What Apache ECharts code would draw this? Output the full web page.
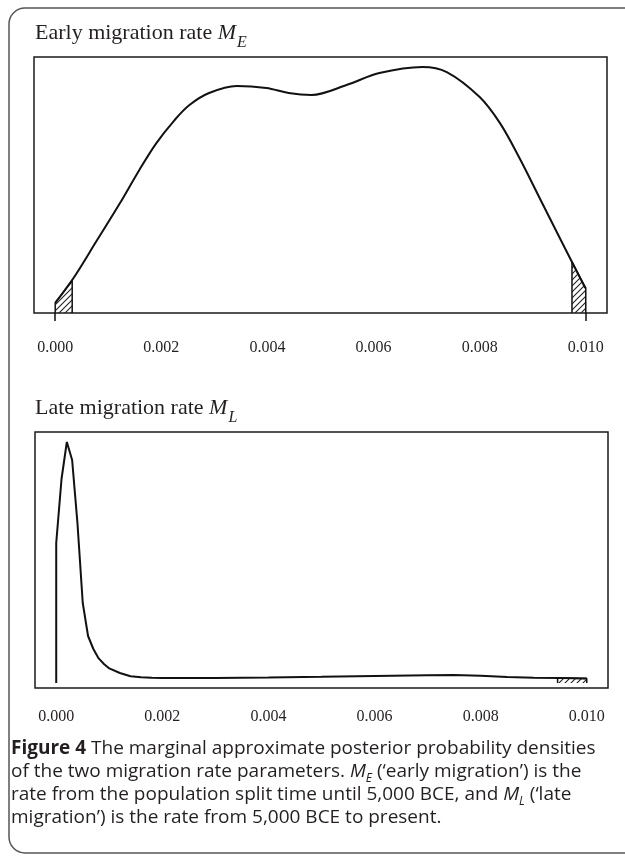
<!DOCTYPE html>
<html><head><meta charset="utf-8">
<script src="https://cdn.jsdelivr.net/npm/echarts@6/dist/echarts.min.js"></script>
<style>html,body{margin:0;padding:0;background:#fff}#c{width:625px;height:856px}</style>
</head><body><div id="c"></div>
<script>
// ---- data (x = migration rate, y = posterior density) ----
const tickValues = [0, 0.002, 0.004, 0.006, 0.008, 0.010];

const earlyX = [0, 0.00032, 0.00079, 0.00121, 0.00158, 0.0019, 0.00225, 0.00253, 0.0029, 0.00342, 0.00398, 0.0044, 0.00483, 0.00549, 0.00611, 0.00692, 0.00738, 0.008, 0.00838, 0.00875, 0.00913, 0.00951, 0.00974, 0.00998, 0.01];
const earlyY = [6.3, 20.6, 45.6, 68.1, 89.1, 105.9, 120.6, 130, 137.5, 141.9, 140.6, 137.5, 136.3, 142.5, 150, 153.8, 150.6, 135, 118.8, 96.9, 71.9, 46.9, 31.9, 16.3, 15.6];
const earlyLeftTailX = [0, 0.00032];
const earlyLeftTailY = [6.3, 20.6];
const earlyRightTailX = [0.00974, 0.01];
const earlyRightTailY = [31.9, 15.6];

const lateX = [0, 0, 0.0001, 0.0002, 0.0003, 0.0004, 0.0005, 0.0006, 0.0007, 0.0008, 0.0009, 0.001, 0.0012, 0.0014, 0.0016, 0.0018, 0.002, 0.0025, 0.003, 0.004, 0.005, 0.006, 0.007, 0.0075, 0.008, 0.0085, 0.009, 0.0095, 0.01];
const lateY = [0, 980, 1428, 1687, 1561, 1120, 560, 329, 238, 172, 133, 102, 70, 47, 41, 36, 35, 35, 35, 38, 43, 49, 55, 56, 50, 42, 37, 35, 32];
const lateTailX = [0.00945, 0.01];
const lateTailY = [35, 32];

const titleEarly = ['Early migration rate ', 'M', 'E'];
const titleLate = ['Late migration rate ', 'M', 'L'];
const captionLines = [
  [['b', 'Figure 4'], ['n', ' The marginal approximate posterior probability densities']],
  [['n', 'of the two migration rate parameters. '], ['i', 'M'], ['s', 'E'], ['n', ' (\u2018early migration\u2019) is the']],
  [['n', 'rate from the population split time until 5,000 BCE, and '], ['i', 'M'], ['s', 'L'], ['n', ' (\u2018late']],
  [['n', 'migration\u2019) is the rate from 5,000 BCE to present.']]
];

// ---- helpers ----
const zip = (xs, ys) => xs.map((x, i) => [x, ys[i]]);
const tailPoly = (xs, ys) => [[xs[0], 0], [xs[0], ys[0]], [xs[1], ys[1]], [xs[1], 0]];
function hatch() {
  const s = 6, c = document.createElement('canvas');
  c.width = s; c.height = s;
  const g = c.getContext('2d');
  g.strokeStyle = '#222'; g.lineWidth = 1.1; g.beginPath();
  g.moveTo(0, s); g.lineTo(s, 0);
  g.moveTo(-1, 1); g.lineTo(1, -1);
  g.moveTo(s - 1, s + 1); g.lineTo(s + 1, s - 1);
  g.stroke();
  return c;
}
const INK = '#231f20';
const serif = 'Liberation Serif';
const sans = 'Open Sans';

const titleRich = {
  a: {fontFamily: serif, fontSize: 22, fontWeight: 'normal', color: INK, lineHeight: 25, verticalAlign: 'top'},
  m: {fontFamily: serif, fontSize: 22, fontWeight: 'normal', fontStyle: 'italic', color: INK, lineHeight: 25, verticalAlign: 'top'},
  s: {fontFamily: serif, fontSize: 16, fontWeight: 'normal', fontStyle: 'italic', color: INK, lineHeight: 15, padding: [13, 0, 0, 1], verticalAlign: 'top'}
};
const capRich = {
  b: {fontFamily: sans, fontSize: 19, fontWeight: 'bold', color: INK, lineHeight: 23, verticalAlign: 'top'},
  n: {fontFamily: sans, fontSize: 19, fontWeight: 'normal', color: INK, lineHeight: 23, verticalAlign: 'top'},
  i: {fontFamily: sans, fontSize: 19, fontWeight: 'normal', fontStyle: 'italic', color: INK, lineHeight: 23, verticalAlign: 'top'},
  s: {fontFamily: sans, fontSize: 12, fontWeight: 'normal', fontStyle: 'italic', color: INK, lineHeight: 12, padding: [11, 0, 0, 0], verticalAlign: 'top'}
};
const titleText = t => `{a|${t[0]}}{m|${t[1]}}{s|${t[2]}}`;
const capTops = [739, 762, 785, 808];

const titles = [
  {left: 35, top: 22, padding: 0, text: titleText(titleEarly), textStyle: {fontWeight: 'normal', rich: titleRich}},
  {left: 35, top: 397, padding: 0, text: titleText(titleLate), textStyle: {fontWeight: 'normal', rich: titleRich}}
].concat(captionLines.map((line, i) => ({
  left: 11, top: capTops[i], padding: 0,
  text: line.map(([st, tx]) => `{${st}|${tx}}`).join(''),
  textStyle: {fontWeight: 'normal', rich: capRich}
})));

function xAxis(gi, ticks, margin) {
  return {
    gridIndex: gi, type: 'value', min: -0.0004, max: 0.0104,
    splitLine: {show: false}, axisLine: {show: false},
    axisTick: {show: ticks.length > 0, customValues: ticks, length: 8, lineStyle: {color: '#111', width: 1.5}},
    axisLabel: {customValues: tickValues, formatter: v => v.toFixed(3), fontFamily: serif, fontSize: 16, color: INK, margin: margin}
  };
}
const hatchColor = {image: hatch(), repeat: 'repeat'};
const lineBase = {type: 'line', symbol: 'none', showSymbol: false, silent: true, animation: false};

const option = {
  animation: false,
  title: titles,
  graphic: [{type: 'rect', shape: {x: 9, y: 8, width: 640, height: 845, r: 16}, style: {fill: 'none', stroke: '#555', lineWidth: 1.5}, silent: true}],
  grid: [
    {left: 34, top: 57, width: 573, height: 256, show: true, borderColor: '#1a1a1a', borderWidth: 1.5, backgroundColor: 'transparent'},
    {left: 35, top: 432, width: 573, height: 256, show: true, borderColor: '#1a1a1a', borderWidth: 1.5, backgroundColor: 'transparent'}
  ],
  xAxis: [xAxis(0, [0, 0.01], 27), xAxis(1, [], 21)],
  yAxis: [
    {gridIndex: 0, type: 'value', min: 0, max: 160, show: false},
    {gridIndex: 1, type: 'value', min: -35, max: 1757, show: false}
  ],
  series: [
    Object.assign({}, lineBase, {xAxisIndex: 0, yAxisIndex: 0, data: tailPoly(earlyLeftTailX, earlyLeftTailY), lineStyle: {color: '#111', width: 1.5}, areaStyle: {color: hatchColor, opacity: 1}}),
    Object.assign({}, lineBase, {xAxisIndex: 0, yAxisIndex: 0, data: tailPoly(earlyRightTailX, earlyRightTailY), lineStyle: {color: '#111', width: 1.5}, areaStyle: {color: hatchColor, opacity: 1}}),
    Object.assign({}, lineBase, {xAxisIndex: 0, yAxisIndex: 0, data: zip(earlyX, earlyY), smooth: 0.35, lineStyle: {color: '#111', width: 2}, z: 3}),
    Object.assign({}, lineBase, {xAxisIndex: 1, yAxisIndex: 1, data: tailPoly(lateTailX, lateTailY), lineStyle: {color: '#111', width: 1.5}, areaStyle: {color: hatchColor, opacity: 1}}),
    Object.assign({}, lineBase, {xAxisIndex: 1, yAxisIndex: 1, data: zip(lateX, lateY), lineStyle: {color: '#111', width: 2}, z: 3})
  ]
};
const chart = echarts.init(document.getElementById('c'), null, {renderer: 'canvas'});
chart.setOption(option);
</script>
</body></html>
